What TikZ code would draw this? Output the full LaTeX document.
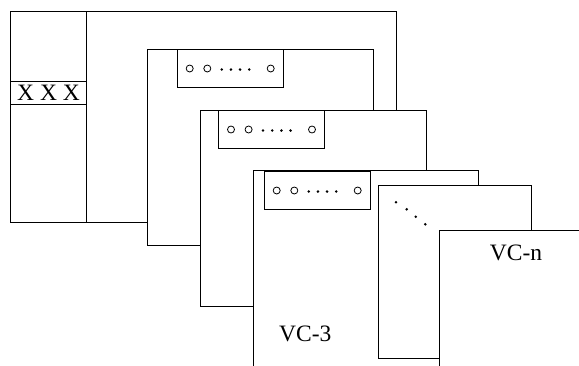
\documentclass[tikz,border=0pt]{standalone}
\usepackage{fontspec}
\setmainfont{Liberation Serif}
\begin{document}
\begin{tikzpicture}[x=1pt,y=-1pt,
  frame/.style={draw=black,fill=white,line width=0.9pt},
  edge/.style={draw=black,line width=0.9pt},
  lbl/.style={inner sep=0pt,font=\fontsize{23.5}{26}\selectfont},
  hole/.style={draw=black,line width=0.8pt,fill=white},
  dotf/.style={fill=black},
  portbox/.pic={
    \draw[line width=0.9pt,fill=white] (0,0) rectangle (106,38);
    \draw[hole] (12.7,19) circle (3.5pt);
    \draw[hole] (30.3,19) circle (3.5pt);
    \foreach \dx in {44.7,53.9,63.1,72.3} \fill[dotf] (\dx,20) circle (1.4pt);
    \draw[hole] (93.7,19) circle (3.5pt);
  }]
\useasboundingbox (0,0) rectangle (579,365);
\clip (0,0) rectangle (579,365);
\fill[white] (0,0) rectangle (579,365);
% frame 0
\draw[frame] (10,11) rectangle (396,222);
\draw[edge] (86,11) -- (86,222);
\draw[edge] (10,81.5) -- (86,81.5);
\draw[edge] (10,104.5) -- (86,104.5);
\node[lbl] (xxx) at (48.5,92.5) {X X X};
% frame 1
\draw[frame] (147,49.5) rectangle (373,245);
\pic at (177,49.5) {portbox};
% frame 2
\draw[frame] (200,110) rectangle (426,306);
\pic at (218.3,110.5) {portbox};
% frame 3
\draw[frame] (253.3,170.5) rectangle (478,380);
\pic at (264,171.5) {portbox};
\node[lbl] (vc3) at (305.3,333.5) {VC-3};
% frame 4
\draw[frame] (378,185) rectangle (531.5,358.5);
\foreach \px/\py in {396/202.3,406.7/209.3,415.7/216.7,425.3/224.3}
  \fill[dotf] (\px,\py) circle (1.4pt);
% frame 5
\draw[frame] (439,230.7) rectangle (600,380);
\node[lbl] (vcn) at (516,252.7) {VC-n};
\end{tikzpicture}
\end{document}
